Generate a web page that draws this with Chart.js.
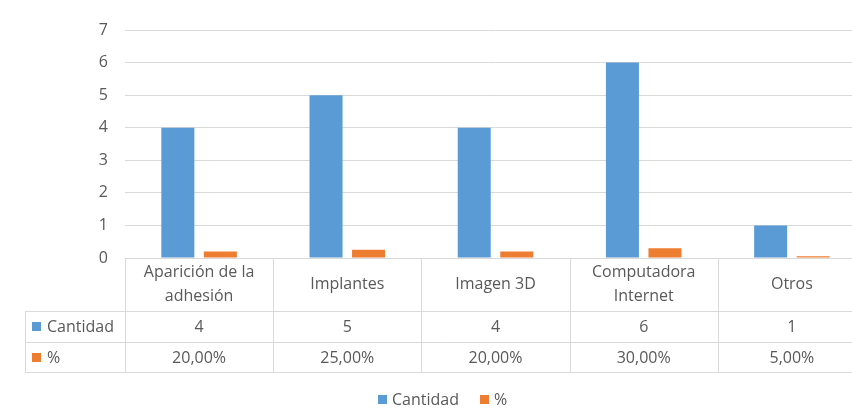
<!DOCTYPE html>
<html>
<head>
<meta charset="utf-8">
<script src="https://cdn.jsdelivr.net/npm/chart.js@4.4.1/dist/chart.umd.min.js"></script>
<style>
    html, body { margin: 0; padding: 0; background: #fff; overflow: hidden; width: 852px; height: 408px; }
    #wrap { position: relative; width: 870px; height: 408px; }
</style>
</head>
<body>
<div id="wrap"><canvas id="chart" width="870" height="408"></canvas></div>
<script>
// Data
const categories = [['Aparición de la', 'adhesión'], 'Implantes', 'Imagen 3D', ['Computadora', 'Internet'], 'Otros'];
const seriesNames = ['Cantidad', '%'];
const cantidad = [4, 5, 4, 6, 1];
const porcentaje = [0.20, 0.25, 0.20, 0.30, 0.05];
const yMax = 7;

const colors = { blue: '#5b9bd5', orange: '#ed7d31', grid: '#d9d9d9', text: '#595959' };
const FONT = '"Open Sans", "DejaVu Sans", sans-serif';

const fmtPct = v => (v * 100).toFixed(2).replace('.', ',') + '%';

// Data table + legend drawn under the plot area
const tablePlugin = {
    id: 'dataTable',
    afterDraw(chart) {
        const ctx = chart.ctx;
        const area = chart.chartArea;
        const x = chart.scales.x;
        const n = categories.length;
        const w = (area.right - area.left) / n;
        const y0 = area.bottom, y1 = 311, y2 = 342, y3 = 372;
        const labelLeft = 25;

        ctx.save();
        ctx.strokeStyle = colors.grid;
        ctx.lineWidth = 1;
        ctx.beginPath();
        // horizontal lines
        ctx.moveTo(area.left, y0 + 0.5); ctx.lineTo(area.right, y0 + 0.5);
        [y1, y2, y3].forEach(y => { ctx.moveTo(labelLeft, y + 0.5); ctx.lineTo(area.right, y + 0.5); });
        // vertical lines
        ctx.moveTo(labelLeft + 0.5, y1); ctx.lineTo(labelLeft + 0.5, y3);
        for (let i = 0; i <= n; i++) {
            const bx = Math.round(area.left + i * w) + 0.5;
            ctx.moveTo(bx, y0); ctx.lineTo(bx, y3);
        }
        ctx.stroke();

        ctx.fillStyle = colors.text;
        ctx.font = '16px ' + FONT;
        ctx.textAlign = 'center';
        ctx.textBaseline = 'middle';
        categories.forEach((cat, i) => {
            const cx = x.getPixelForValue(i);
            const lines = Array.isArray(cat) ? cat : [cat];
            const mid = (y0 + y1) / 2;
            const lh = 24;
            lines.forEach((t, j) => {
                ctx.fillText(t, cx, mid + (j - (lines.length - 1) / 2) * lh);
            });
            ctx.fillText(String(cantidad[i]), cx, (y1 + y2) / 2 + 1);
            ctx.fillText(fmtPct(porcentaje[i]), cx, (y2 + y3) / 2 + 1);
        });

        // row headers
        ctx.textAlign = 'left';
        [[colors.blue, seriesNames[0], (y1 + y2) / 2], [colors.orange, seriesNames[1], (y2 + y3) / 2]].forEach(([c, t, cy]) => {
            ctx.fillStyle = c;
            ctx.fillRect(32, Math.round(cy - 4.5), 9, 9);
            ctx.fillStyle = colors.text;
            ctx.fillText(t, 47, cy + 1);
        });

        // legend
        const ly = 400;
        [[colors.blue, seriesNames[0], 378], [colors.orange, seriesNames[1], 480]].forEach(([c, t, lx]) => {
            ctx.fillStyle = c;
            ctx.fillRect(lx, ly - 5, 9, 9);
            ctx.fillStyle = colors.text;
            ctx.fillText(t, lx + 14, ly);
        });
        ctx.restore();
    }
};

new Chart(document.getElementById('chart'), {
    type: 'bar',
    data: {
        labels: categories,
        datasets: [
            { label: seriesNames[0], data: cantidad, backgroundColor: colors.blue, categoryPercentage: 0.574, barPercentage: 0.776 },
            { label: seriesNames[1], data: porcentaje, backgroundColor: colors.orange, categoryPercentage: 0.574, barPercentage: 0.776 }
        ]
    },
    options: {
        responsive: false,
        animation: false,
        layout: { padding: { top: 30, left: 0, right: 4, bottom: 150 } },
        plugins: {
            legend: { display: false },
            tooltip: { enabled: false }
        },
        scales: {
            x: { display: false },
            y: {
                min: 0,
                max: yMax,
                afterFit: scale => { scale.width = 125; },
                ticks: { stepSize: 1, padding: 17, color: colors.text, font: { family: FONT, size: 16 } },
                grid: { color: colors.grid, drawTicks: false },
                border: { display: false }
            }
        }
    },
    plugins: [tablePlugin]
});
</script>
</body>
</html>
